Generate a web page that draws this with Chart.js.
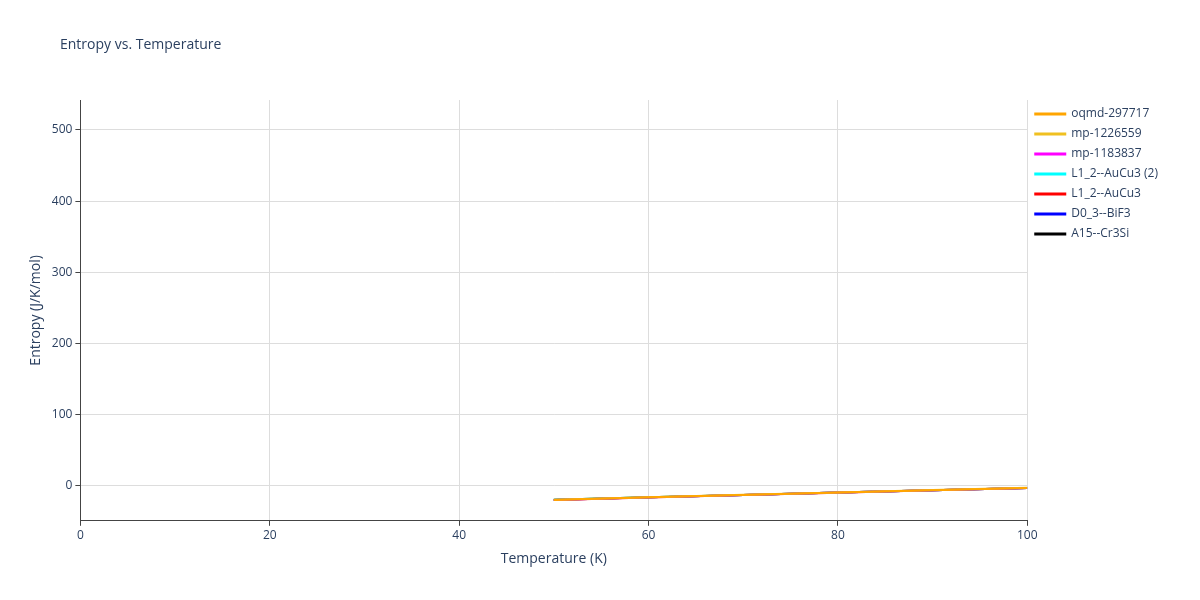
<!doctype html>
<html lang="en">
<head>
<meta charset="utf-8">
<title>Entropy vs. Temperature</title>
<script src="https://cdn.jsdelivr.net/npm/chart.js"></script>
<style>
  body { margin: 0; background: white; }
  .chartCard { width: 1200px; height: 600px; position: relative; }
</style>
</head>
<body>
<div class="chartCard"><canvas id="myChart"></canvas></div>
<script>
const temps = [50, 60, 70, 80, 90, 100];
const seriesNames = ['A15--Cr3Si', 'D0_3--BiF3', 'L1_2--AuCu3', 'L1_2--AuCu3 (2)', 'mp-1183837', 'mp-1226559', 'oqmd-297717'];
const seriesColors = ['#000000', '#0000ff', '#ff0000', '#00ffff', '#ff00ff', '#f0c020', '#ffa500'];
const seriesValues = [
    [-19.6, -16.0, -12.6, -9.3, -6.0, -2.8],
    [-19.7, -16.1, -12.7, -9.4, -6.1, -2.9],
    [-19.8, -16.2, -12.8, -9.5, -6.2, -3.0],
    [-19.6, -16.0, -12.6, -9.3, -6.0, -2.8],
    [-19.7, -16.1, -12.6, -9.4, -6.1, -2.9],
    [-19.5, -15.9, -12.5, -9.2, -5.9, -2.7],
    [-19.7, -16.0, -12.7, -9.4, -6.0, -2.8]
];

const datasets = seriesNames.map((name, i) => ({
    label: name,
    data: temps.map((t, j) => ({ x: t, y: seriesValues[i][j] })),
    borderColor: seriesColors[i],
    backgroundColor: seriesColors[i],
    borderWidth: 2,
    pointRadius: 0,
    showLine: true,
    order: seriesNames.length - i
}));

const gridColor = '#dddddd';
const textColor = '#2a3f5f';

// title drawn at a fixed spot like plotly does
const titlePlugin = {
    id: 'plainTitle',
    afterDraw: (chart) => {
        const ctx = chart.ctx;
        ctx.save();
        ctx.fillStyle = textColor;
        ctx.font = '14px "Open Sans"';
        ctx.textBaseline = 'middle';
        ctx.fillText('Entropy vs. Temperature', 60, 45);
        ctx.restore();
    }
};

new Chart(document.getElementById('myChart'), {
    type: 'scatter',
    data: { datasets: datasets },
    plugins: [titlePlugin],
    options: {
        responsive: true,
        maintainAspectRatio: false,
        animation: false,
        layout: { padding: { top: 100, left: 24, right: 32, bottom: 29 } },
        plugins: {
            title: { display: false },
            legend: {
                position: 'right', align: 'start',
                labels: {
                    color: textColor, font: { family: 'Open Sans', size: 12 },
                    boxWidth: 30, boxHeight: 1, padding: 8
                }
            },
            tooltip: { enabled: false }
        },
        scales: {
            x: {
                min: 0, max: 100,
                ticks: { stepSize: 20, color: textColor, font: { family: 'Open Sans', size: 12 } },
                grid: { color: gridColor, drawTicks: true, tickColor: '#444', tickLength: 5 },
                border: { color: '#444' },
                title: { display: true, text: 'Temperature (K)', color: textColor, font: { family: 'Open Sans', size: 14 } }
            },
            y: {
                min: -49, max: 542,
                afterBuildTicks: (axis) => {
                    axis.ticks = [0, 100, 200, 300, 400, 500].map(v => ({ value: v }));
                },
                ticks: { color: textColor, font: { family: 'Open Sans', size: 12 } },
                grid: { color: gridColor, tickColor: '#444', tickLength: 5 },
                border: { color: '#444' },
                title: { display: true, text: 'Entropy (J/K/mol)', color: textColor, font: { family: 'Open Sans', size: 14 } }
            }
        }
    }
});
</script>
</body>
</html>
